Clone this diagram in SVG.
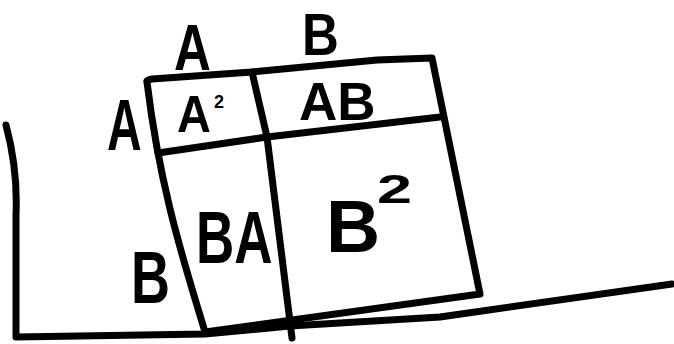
<svg xmlns="http://www.w3.org/2000/svg" width="674" height="344" viewBox="0 0 674 344">
<style>
.ln{fill:none;stroke:#000;stroke-width:7;stroke-linecap:round;stroke-linejoin:round}
.t{font-family:"Liberation Sans",Arial,sans-serif;font-weight:bold;fill:#000}
</style>
<rect width="674" height="344" fill="#fff"/>
<g id="ground">
<path class="ln" d="M6,125 Q18,170 16,215 L16,337 L205,334 L290,326 L440,317 L672,284"/>
</g>
<g id="square">
<path class="ln" d="M147,82 Q146,80 152,79 L252,72 L377,60 L432,58 L480,294 L205,332 C185,265 160,190 147,82 Z"/>
<path class="ln" d="M252,72 L267,137 L292,338"/>
<path class="ln" d="M158,153 L267,137 L440,117"/>
</g>
<g id="labels">
<text class="t" font-size="51" transform="translate(174,70) scale(1,1.28)">A</text>
<text class="t" font-size="51" transform="translate(302,55) scale(1,1.15)">B</text>
<text class="t" font-size="48" transform="translate(107,150) scale(1,1.5)">A</text>
<text class="t" font-size="47" transform="translate(177,132) scale(1,1.1)">A</text>
<text class="t" font-size="18" transform="translate(214,108)">2</text>
<text class="t" font-size="53" transform="translate(299,120)">AB</text>
<text class="t" font-size="53" transform="translate(196,263) scale(1,1.4)">BA</text>
<text class="t" font-size="75" transform="translate(326,252)">B</text>
<text class="t" font-size="45" transform="translate(377,203) scale(1.4,0.9)">2</text>
<text class="t" font-size="54" transform="translate(131,303) scale(1,1.37)">B</text>
</g>
</svg>
